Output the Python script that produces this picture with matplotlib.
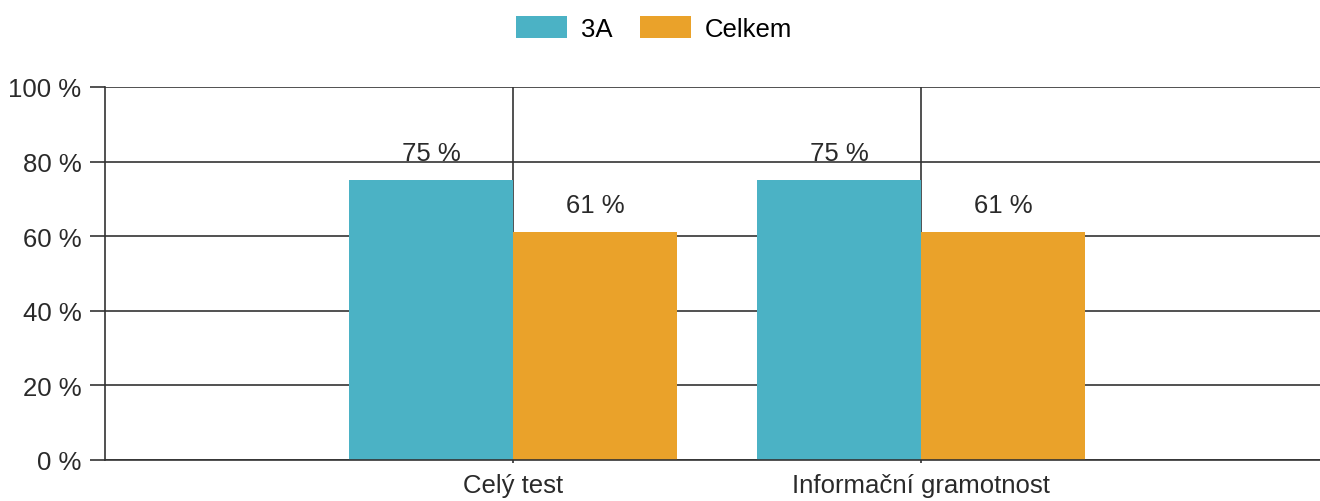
import numpy as np
import matplotlib.pyplot as plt

plt.rcParams['font.family'] = ['Liberation Sans', 'DejaVu Sans']

categories = ["Celý test", "Informační gramotnost"]
series_names = ["3A", "Celkem"]
values_3a = [75, 75]
values_celkem = [61, 61]
yticks = [0, 20, 40, 60, 80, 100]

colors = ["#4BB2C5", "#EAA22A"]
grid_col = "#333333"
txt_col = "#2a2a2a"
fs = 18.5

fig = plt.figure(figsize=(13.2, 5.02), dpi=100)
ax = fig.add_axes([105 / 1320, 1 - 461 / 502, 1 - 105 / 1320, (461 - 88) / 502])

x = np.arange(len(categories))
w = 0.402
b1 = ax.bar(x - w / 2, values_3a, w, color=colors[0], label=series_names[0], zorder=2)
b2 = ax.bar(x + w / 2, values_celkem, w, color=colors[1], label=series_names[1], zorder=2)

for bars, vals in ((b1, values_3a), (b2, values_celkem)):
    ax.bar_label(bars, labels=[f"{v} %" for v in vals], padding=11, fontsize=fs, color=txt_col)

ax.set_xlim(-1, (1320 - 513) / 408)
ax.set_ylim(0, 100)
ax.set_xticks(x)
ax.set_xticklabels(categories, fontsize=fs, color=txt_col)
ax.set_yticks(yticks)
ax.set_yticklabels([f"{t} %" for t in yticks], fontsize=fs, color=txt_col)

ax.set_axisbelow(True)
ax.grid(True, color=grid_col, linewidth=1.2)

for s in ("top", "right"):
    ax.spines[s].set_visible(False)
for s in ("left", "bottom"):
    ax.spines[s].set_color(grid_col)
    ax.spines[s].set_linewidth(1.2)
    ax.spines[s].set_zorder(3)

ax.tick_params(axis="y", length=11, width=1.2, color=grid_col, pad=6)
ax.tick_params(axis="x", length=2.5, width=1.2, color=grid_col, pad=7)

fig.legend(loc="upper center", bbox_to_anchor=(0.4955, 1.0), ncol=2, frameon=False,
           fontsize=fs, handlelength=2.0, handleheight=0.95, columnspacing=1.05,
           handletextpad=0.55, borderaxespad=0.25)

fig.savefig("out.png", dpi=100)
